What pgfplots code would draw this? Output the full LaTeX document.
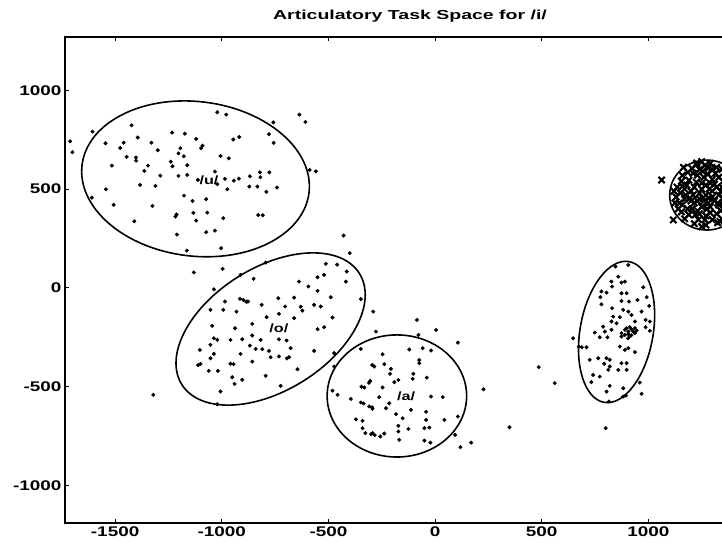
\documentclass[border=0pt]{standalone}
\usepackage{fontspec}
\setmainfont{Liberation Sans}
\newfontfamily\tickfont[FakeStretch=1.35]{Liberation Sans}
\newfontfamily\titlefont[FakeStretch=1.5]{Liberation Sans}
\usepackage{pgfplots}
\pgfplotsset{compat=1.18}
\usepackage{pgfplotstable}

% tokens of /u/
\pgfplotstableread{
x y
-1021 889
-979 877
-636 877
-608 840
-758 838
-1423 823
-1606 791
-1233 786
-1173 781
-779 778
-918 764
-946 751
-1120 754
-1394 761
-1711 742
-1700 687
-1545 732
-1460 735
-1330 735
-757 734
-1476 708
-1194 707
-1097 707
-1090 720
-1300 697
-1203 681
-1178 666
-1446 663
-1402 644
-1402 660
-1006 668
-967 656
-1239 639
-1346 619
-1515 619
-1231 616
-1162 621
-588 597
-559 590
-1363 592
-821 585
-777 585
-1032 589
-1288 568
-1203 567
-1162 572
-868 565
-819 560
-1112 547
-985 552
-943 543
-920 553
-1383 521
-1311 516
-1021 525
-871 513
-833 513
-741 508
-1543 499
-974 499
-791 486
-1609 457
-1177 467
-1137 440
-1073 449
-1507 420
-1325 415
-1133 380
-1068 381
-1217 361
-1212 372
-993 353
-829 369
-808 368
-1120 341
-1410 337
-1210 270
-1073 282
-1032 290
-429 265
-1164 189
-1003 201
-400 176
-512 122
-459 118
-996 96
}\utokens

% tokens of /o/
\pgfplotstableread{
x y
-1131 78
-794 128
-912 66
-414 83
-520 66
-551 54
-851 46
-638 32
-418 32
-1037 -7
-594 7
-551 -15
-915 -55
-899 -61
-885 -70
-877 -69
-735 -52
-661 -49
-489 -47
-985 -69
-813 -86
-703 -94
-567 -86
-536 -94
-348 -57
-1053 -111
-993 -111
-931 -120
-622 -115
-630 -95
-290 -120
-732 -131
-790 -148
-661 -153
-481 -150
-1045 -192
-938 -204
-857 -182
-551 -209
-520 -199
-857 -241
-1037 -255
-959 -263
-1053 -288
-1021 -263
-904 -260
-818 -263
-732 -260
-696 -266
-868 -292
-841 -309
-810 -310
-779 -319
-677 -305
-567 -319
-1103 -314
-1037 -334
-912 -334
-473 -330
-1053 -356
-771 -351
-732 -347
-685 -351
-695 -357
-1111 -391
-1100 -385
-959 -384
-945 -386
-857 -373
-1061 -420
-645 -412
-1018 -420
-951 -452
-904 -465
-794 -445
-940 -486
-724 -496
-1006 -524
-1021 -589
-1321 -541
}\otokens

% tokens of /a/
\pgfplotstableread{
x y
-277 -221
-85 -162
5 -213
107 -277
-78 -238
-348 -309
-246 -336
-121 -312
-58 -305
-19 -317
-74 -381
-74 -365
-285 -398
-295 -390
-238 -386
-207 -410
-211 -435
-172 -466
-102 -435
-105 -460
-39 -454
-304 -471
-310 -480
-332 -504
-345 -500
-191 -477
-246 -504
-481 -520
-457 -541
-395 -562
-348 -580
-335 -585
-309 -600
-295 -605
-293 -612
-230 -609
-215 -584
-262 -553
-113 -617
-42 -627
-19 -550
36 -553
227 -513
-371 -665
-340 -673
-183 -639
-152 -660
-42 -668
44 -668
-340 -710
-172 -698
-125 -714
-27 -707
-50 -710
-327 -735
-293 -735
-283 -745
-300 -740
-257 -752
-238 -737
-172 -727
-168 -769
-50 -773
-22 -783
107 -651
94 -744
119 -806
169 -783
349 -705
-473 -398
}\atokens

% tokens of the fourth vowel
\pgfplotstableread{
x y
846 108
906 116
859 57
827 32
874 27
890 32
830 7
976 3
780 -18
804 -24
874 -27
898 -27
775 -47
992 -47
874 -66
909 -69
949 -61
780 -83
1004 -91
830 -103
968 -120
882 -111
906 -120
921 -137
835 -145
866 -148
827 -170
851 -179
937 -170
987 -162
1007 -170
788 -196
827 -212
890 -212
913 -199
937 -204
987 -199
749 -226
796 -221
874 -229
906 -234
929 -221
1007 -217
647 -255
772 -250
808 -250
674 -297
688 -300
710 -300
866 -297
906 -305
890 -314
937 -325
725 -364
765 -356
804 -356
819 -364
874 -381
898 -381
793 -384
819 -398
812 -415
859 -415
898 -415
741 -440
772 -449
733 -477
960 -479
819 -496
882 -508
804 -525
968 -536
882 -550
895 -545
815 -575
486 -401
561 -482
800 -710
906 -221
890 -238
921 -209
937 -229
874 -246
913 -246
898 -204
945 -216
920 -240
905 -255
}\etokens

% tokens of /i/
\pgfplotstableread{
x y
1270 470
1240 480
1300 460
1260 440
1285 500
1330 470
1320 510
1290 530
1250 530
1215 510
1210 470
1215 430
1250 410
1290 410
1325 430
1370 470
1360 520
1330 560
1280 575
1230 570
1190 545
1170 500
1170 450
1185 400
1220 370
1270 365
1320 375
1355 410
1405 470
1395 530
1365 585
1320 610
1265 620
1205 605
1160 570
1135 510
1130 460
1140 400
1170 350
1215 325
1270 318
1325 330
1370 365
1395 415
1240 450
1300 490
1270 520
1230 440
1310 440
1280 430
1250 500
1200 490
1340 490
1200 440
1260 560
1300 550
1330 420
1230 390
1290 380
1180 520
1350 540
1160 420
1240 600
1300 600
1150 480
1155 540
1145 430
1185 585
1190 370
1235 345
1300 345
1345 350
1385 390
1410 440
1410 500
1385 560
1345 600
1290 630
1225 625
1175 470
1275 400
1255 590
1315 580
1345 510
1205 400
1120 490
1125 430
1420 520
1380 610
1165 610
1255 455
1285 455
1225 535
1310 525
1195 455
1350 455
1265 345
1210 580
1280 605
1340 390
1155 385
1240 375
1380 500
1160 515
1062 546
1250 639
1227 632
1117 344
1250 310
1336 336
1297 597
}\itokens

\begin{document}
\begin{tikzpicture}
\begin{axis}[
  name=ax, at={(0,0)}, anchor=south west,
  scale only axis, width=690pt, height=486pt,
  xmin=-1735, xmax=1500, ymin=-1190, ymax=1270,
  xtick={-1500,-1000,...,1000},
  ytick={-1000,-500,...,1000},
  scaled ticks=false,
  /pgf/number format/1000 sep={},
  /pgf/number format/assume math mode=true,
  tick label style={font=\tickfont\bfseries\fontsize{14}{16}\selectfont},
  major tick length=4pt,
  tick align=inside,
  axis line style={line width=1.5pt},
  every tick/.style={black, line width=1pt},
  title={Articulatory Task Space for /i/},
  title style={font=\titlefont\bfseries\fontsize{13}{15}\selectfont,
    anchor=base, at={(0.5,1)}, yshift=12pt},
  clip mode=individual,
]
\addplot[only marks, mark=*, mark size=1.8pt, black] table {\utokens};
\addplot[only marks, mark=*, mark size=1.8pt, black] table {\otokens};
\addplot[only marks, mark=*, mark size=1.8pt, black] table {\atokens};
\addplot[only marks, mark=*, mark size=1.8pt, black] table {\etokens};
\addplot[only marks, mark=x, mark size=4.5pt, line width=2.1pt, black] table {\itokens};

% two-sigma contours of each vowel
\draw[line width=1.6pt, rotate around={-7:(axis cs:-1123,552)}]
  (axis cs:-1123,552) ellipse [x radius=536, y radius=391];
\draw[line width=1.6pt, rotate around={32:(axis cs:-771,-208)}]
  (axis cs:-771,-208) ellipse [x radius=491, y radius=311];
\draw[line width=1.6pt]
  (axis cs:-179,-547) ellipse [x radius=327, y radius=309];
\draw[line width=1.6pt, rotate around={80:(axis cs:851,-223)}]
  (axis cs:851,-223) ellipse [x radius=335, y radius=185];
\draw[line width=1.6pt]
  (axis cs:1274,470) ellipse [x radius=174, y radius=177];

\node[font=\tickfont\bfseries\fontsize{12}{14}\selectfont] at (axis cs:-1060,546) {/u/};
\node[font=\tickfont\bfseries\fontsize{12}{14}\selectfont] at (axis cs:-732,-204) {/o/};
\node[font=\tickfont\bfseries\fontsize{12}{14}\selectfont] at (axis cs:-136,-550) {/a/};
\end{axis}
\pgfresetboundingbox
\path[use as bounding box] ([shift={(-65pt,-27pt)}]ax.south west)
  rectangle ([shift={(657pt,523pt)}]ax.south west);
\end{tikzpicture}
\end{document}
